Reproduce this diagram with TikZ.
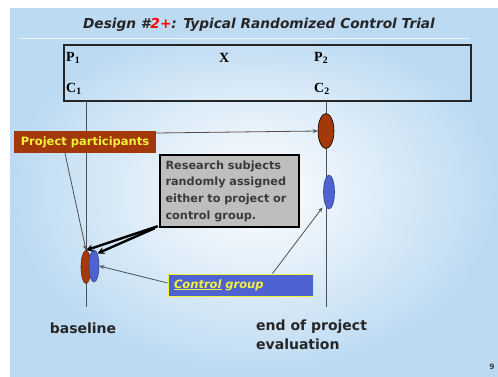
\documentclass[tikz,border=0pt]{standalone}
\usepackage{fontspec}
\setmainfont{Liberation Serif}
\newfontfamily\slidesans{DejaVu Sans}
\usetikzlibrary{shapes.geometric,arrows.meta,fadings}

\definecolor{bgblue}{HTML}{BCDAF2}
\definecolor{rust}{HTML}{A3380A}
\definecolor{grpblue}{HTML}{4E62D2}
\definecolor{labyellow}{HTML}{F2F23A}
\definecolor{boxgrey}{HTML}{BEBEBE}
\definecolor{txtgrey}{HTML}{3A3A3A}
\definecolor{linegrey}{HTML}{505050}

\tikzset{
  sym/.style={font=\fontsize{14}{14}\selectfont\bfseries, anchor=west, inner sep=0pt},
  timeline/.style={draw=linegrey, line width=0.9pt},
  thinarrow/.style={draw=linegrey, line width=0.8pt, -{Stealth[length=5pt,width=4pt]}},
  thickarrow/.style={draw=black, line width=2.4pt, -{Stealth[length=7pt,width=7pt]}},
  blob/.style={ellipse, inner sep=0pt, line width=0.6pt},
  caption/.style={font=\slidesans\fontsize{14}{19}\selectfont\bfseries, text=black!85, inner sep=0pt}
}

\begin{document}
\begin{tikzpicture}[x=1pt,y=1pt]
\useasboundingbox (0,0) rectangle (498,-376);
\fill[white] (0,0) rectangle (498,-376);

% slide background: pale centre fading to blue towards the edges
\shade[inner color=white, outer color=bgblue] (10,-8) rectangle (498,-376);
\fill[bgblue, path fading=south, opacity=0.7] (10,-8) rectangle (498,-80);
\draw[white!70!bgblue, line width=0.8pt] (20,-38) -- (470,-38);

% title
\node[font=\slidesans\fontsize{13.7}{15}\selectfont\bfseries\itshape, text=black!85] (title) at (259,-25)
  {Design \#\textcolor{red}{2+}: Typical Randomized Control Trial};

% notation box
\node[draw=black!85, line width=1.8pt, minimum width=407pt, minimum height=56pt, inner sep=0pt] (frame) at (267.5,-73) {};
\node[sym] (p1) at (66,-58) {P$_{\mathbf{1}}$};
\node[sym] (x)  at (219,-58) {X};
\node[sym] (p2) at (314,-58) {P$_{\mathbf{2}}$};
\node[sym] (c1) at (66,-89) {C$_{\mathbf{1}}$};
\node[sym] (c2) at (314,-89) {C$_{\mathbf{2}}$};

% time lines
\coordinate (lt) at (86,-101);
\coordinate (lbot) at (86,-307);
\coordinate (rt) at (326,-101);
\coordinate (rbot) at (326,-307);
\draw[timeline] (lt) -- (lbot);
\draw[timeline] (rt) -- (rbot);

% group ellipses
\node[blob, draw=black, fill=rust, minimum width=16pt, minimum height=35pt] (er) at (326,-131) {};
\node[blob, draw=grpblue!70!black, fill=grpblue, minimum width=11pt, minimum height=34pt] (eb) at (329,-192) {};
\node[blob, draw=rust!70!black, fill=rust, minimum width=10pt, minimum height=33pt] (lr) at (86,-267) {};
\node[blob, draw=grpblue!70!black, fill=grpblue, minimum width=10pt, minimum height=32pt] (lb) at (94,-266) {};

% labels
\node[fill=rust, minimum width=142pt, minimum height=22pt, inner sep=0pt,
      font=\slidesans\fontsize{11.5}{13}\selectfont\bfseries, text=labyellow] (pp) at (85,-142) {Project participants};

\node[draw=black, line width=2.4pt, fill=boxgrey, minimum width=139pt, minimum height=72pt,
      text width=128pt, align=left, inner sep=0pt, text=txtgrey,
      font=\slidesans\fontsize{11.3}{16.7}\selectfont\bfseries] (rs) at (229.5,-191)
  {Research subjects\\randomly assigned\\either to project or\\control group.};

\node[draw=labyellow, line width=1pt, fill=grpblue, minimum width=145pt, minimum height=22pt,
      text width=133pt, align=left, inner sep=0pt, text=labyellow,
      font=\slidesans\fontsize{11.5}{13}\selectfont\bfseries\itshape] (cg) at (240.5,-285)
  {\underline{Control} group};

% connectors
\draw[thinarrow] ([yshift=9pt]pp.east) -- (er.west);
\draw[thinarrow] ([xshift=-20pt]pp.south) -- (lr.north);
\draw[thickarrow] ([xshift=-1pt,yshift=2pt]rs.south west) -- (lr.north);
\draw[thickarrow] ([xshift=-4pt,yshift=0pt]rs.south west) -- (lb.75);
\draw[thinarrow] ([yshift=2pt]cg.west) -- (lb.east);
\draw[thinarrow, shorten >=4pt] ([xshift=32pt]cg.north) -- (eb.south west);

% time points
\node[caption] (base) at (83,-328) {baseline};
\node[caption, anchor=north west, align=left] (endp) at (256,-320) {end of project\\evaluation};
\node[font=\slidesans\fontsize{7.5}{8}\selectfont\bfseries, text=black!75] (pg) at (492,-367) {9};
\end{tikzpicture}
\end{document}
